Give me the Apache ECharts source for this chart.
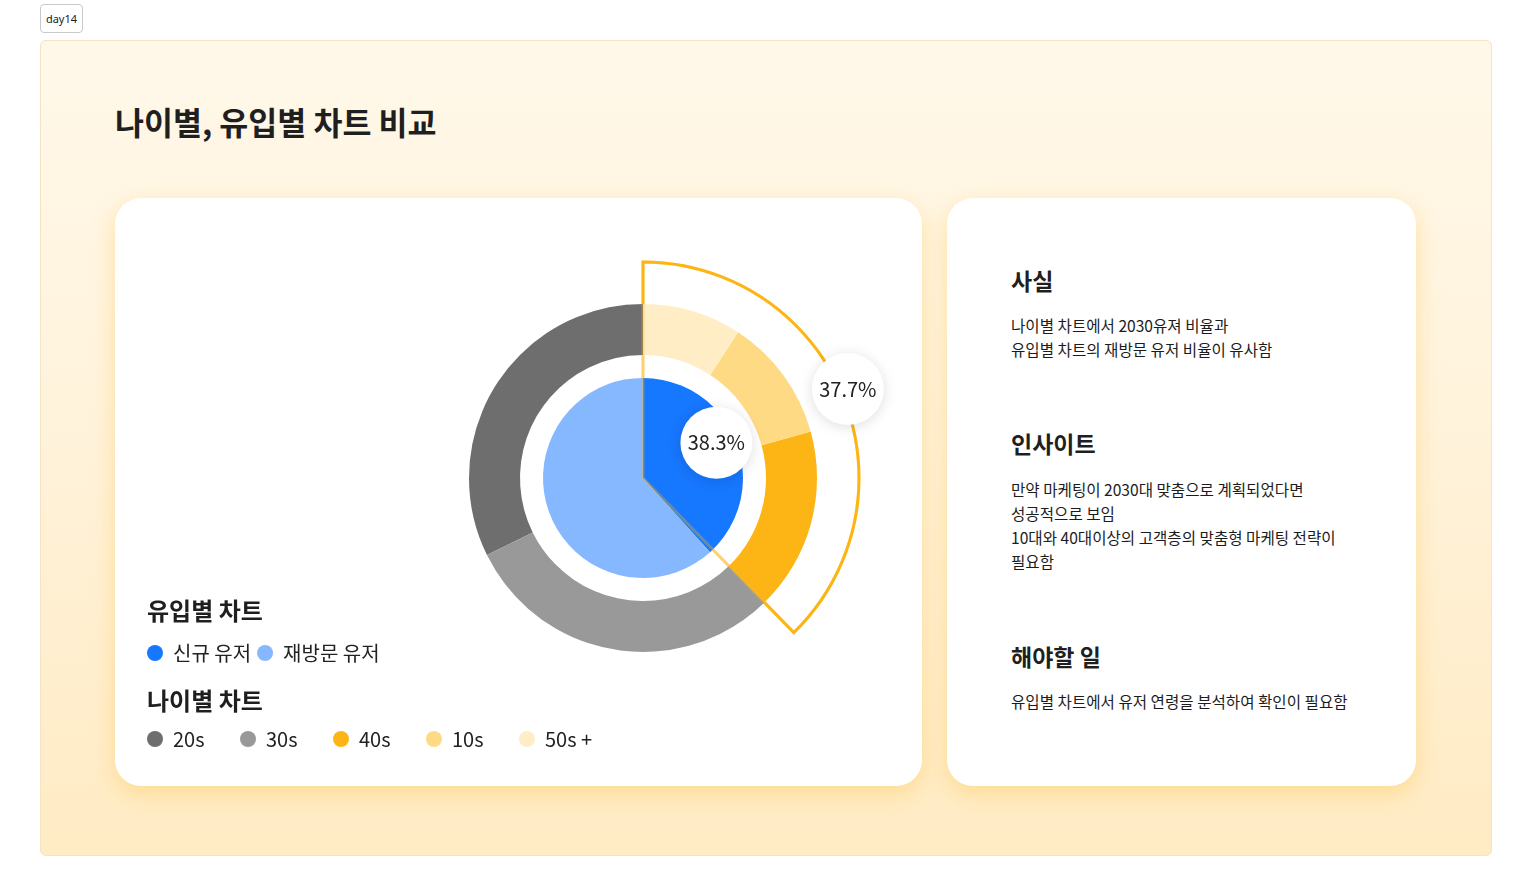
<!DOCTYPE html>
<html>
<head>
<meta charset="utf-8">
<script src="https://cdn.jsdelivr.net/npm/echarts@6/dist/echarts.min.js"></script>
<style>
html,body{margin:0;padding:0;width:1532px;height:896px;background:#fff;font-family:"Noto Sans CJK KR","Noto Sans",sans-serif;color:#222;overflow:hidden}
.tag{position:absolute;left:40px;top:4px;width:43px;height:29px;box-sizing:border-box;border:1px solid #c9c9c9;border-radius:4px;font-size:11px;line-height:27px;text-align:center;background:#fff;color:#222;font-family:"Noto Sans","DejaVu Sans",sans-serif}
.panel{position:absolute;left:40px;top:40px;width:1452px;height:816px;box-sizing:border-box;border:1px solid #f3e5c2;border-radius:6px;background:linear-gradient(180deg,#fff8e9 0%,#fff3dc 45%,#ffebc4 100%)}
.title{position:absolute;left:115px;top:101px;font-size:31.5px;font-weight:700;line-height:40px;color:#1f1f1f;white-space:nowrap}
.card{position:absolute;top:198px;height:588px;background:#fff;border-radius:26px;box-shadow:0 8px 22px rgba(253,195,70,0.40)}
#chart{left:115px;width:807px}
.right{left:947px;width:469px}
.h{position:absolute;left:1011px;font-size:23px;font-weight:700;line-height:30px;color:#1f1f1f;white-space:nowrap}
.p{position:absolute;left:1011px;font-size:15.6px;line-height:24px;color:#1c1c1c;white-space:nowrap}
</style>
</head>
<body>
<div class="tag">day14</div>
<div class="panel"></div>
<div class="title">나이별, 유입별 차트 비교</div>
<div class="card right"></div>
<div class="card" id="chart"></div>

<div class="h" style="top:265px">사실</div>
<div class="p" style="top:313px">나이별 차트에서 2030유져 비율과<br>유입별 차트의 재방문 유저 비율이 유사함</div>
<div class="h" style="top:428px">인사이트</div>
<div class="p" style="top:477px">만약 마케팅이 2030대 맞춤으로 계획되었다면<br>성공적으로 보임<br>10대와 40대이상의 고객층의 맞춤형 마케팅 전략이<br>필요함</div>
<div class="h" style="top:641px">해야할 일</div>
<div class="p" style="top:689px">유입별 차트에서 유저 연령을 분석하여 확인이 필요함</div>

<script>
// ---- data ----
const inflowCats = ['신규 유저', '재방문 유저'];
const inflowValues = [38.3, 61.7];
const inflowColors = ['#1677FF', '#86B8FF'];

const ageCats = ['20s', '30s', '40s', '10s', '50s +'];
const ageValues = [32.3, 30.0, 17.0, 11.5, 9.2];
const ageColors = ['#6E6E6E', '#999999', '#FDB515', '#FFDA85', '#FFEDC6'];

const highlightAges = ['40s', '10s', '50s +'];
const sectionTitles = ['유입별 차트', '나이별 차트'];

// ---- chart ----
const font = '"Noto Sans CJK KR","Noto Sans",sans-serif';
const C = [528, 280];
const hl = Math.round(ageValues.reduce((s, v, i) => highlightAges.includes(ageCats[i]) ? s + v : s, 0) * 10) / 10;
const T = 'rgba(0,0,0,0)';

const bubble = {
  show: true, position: 'inside',
  formatter: p => p.value.toFixed(1) + '%',
  backgroundColor: '#fff', width: 72, height: 72, lineHeight: 72, borderRadius: 36,
  align: 'center', verticalAlign: 'middle',
  fontSize: 20, color: '#222', fontFamily: font,
  shadowBlur: 14, shadowColor: 'rgba(0,0,0,0.13)', shadowOffsetY: 2
};
const common = { type: 'pie', center: C, animation: false, silent: true, labelLine: { show: false }, emphasis: { disabled: true } };

function outline(opacity) {
  return Object.assign({}, common, {
    radius: [0, 216], startAngle: 90, clockwise: true, label: { show: false },
    data: [
      { value: hl, itemStyle: { color: T, borderColor: '#FDB515', borderWidth: 3, borderJoin: 'miter', opacity: opacity } },
      { value: 100 - hl, itemStyle: { color: T, borderWidth: 0 } }
    ]
  });
}

const chart = echarts.init(document.getElementById('chart'), null, { renderer: 'canvas' });
chart.setOption({
  backgroundColor: 'transparent',
  animation: false,
  title: sectionTitles.map((t, i) => ({
    text: t, left: 32, top: [398, 488][i], padding: 0,
    textStyle: { fontSize: 24, fontWeight: 'bold', color: '#1f1f1f', fontFamily: font, lineHeight: 30 }
  })),
  legend: [
    {
      data: inflowCats, left: 32, top: 445, padding: 0, itemWidth: 16, itemHeight: 16, itemGap: 6, icon: 'circle',
      selectedMode: false,
      textStyle: { fontSize: 20, lineHeight: 16, color: '#222', fontFamily: font, padding: [0, 0, 0, 5] }
    },
    {
      data: ageCats, left: 32, top: 531, padding: 0, itemWidth: 16, itemHeight: 16, itemGap: 10, icon: 'circle',
      selectedMode: false,
      textStyle: { fontSize: 20, lineHeight: 16, color: '#222', fontFamily: font, padding: [0, 0, 0, 5], width: 57 }
    }
  ],
  series: [
    outline(1),
    Object.assign({}, common, {
      radius: [0, 174], label: { show: false },
      data: [{ value: 1, itemStyle: { color: 'rgba(255,255,255,0.6)' } }]
    }),
    Object.assign({}, common, {
      name: '나이별', radius: [123, 174], startAngle: 90, clockwise: false, label: { show: false },
      data: ageCats.map((n, i) => ({ name: n, value: ageValues[i], itemStyle: { color: ageColors[i], borderWidth: 0 } }))
    }),
    Object.assign({}, common, {
      name: '유입별', radius: [0, 100], startAngle: 90, clockwise: true, label: { show: false },
      data: inflowCats.map((n, i) => ({ name: n, value: inflowValues[i], itemStyle: { color: inflowColors[i], borderWidth: 0 } }))
    }),
    outline(0.35),
    Object.assign({}, common, {
      radius: [62, 100], startAngle: 90, clockwise: true, z: 10,
      labelLayout: { dx: -5, dy: -5 },
      data: [
        { value: inflowValues[0], itemStyle: { color: T }, label: bubble },
        { value: inflowValues[1], itemStyle: { color: T }, label: { show: false } }
      ]
    }),
    Object.assign({}, common, {
      radius: [205, 240], startAngle: 90, clockwise: true, z: 10,
      labelLayout: { dx: -4, dy: -4 },
      data: [
        { value: hl, itemStyle: { color: T }, label: bubble },
        { value: 100 - hl, itemStyle: { color: T }, label: { show: false } }
      ]
    })
  ]
});
</script>
</body>
</html>
